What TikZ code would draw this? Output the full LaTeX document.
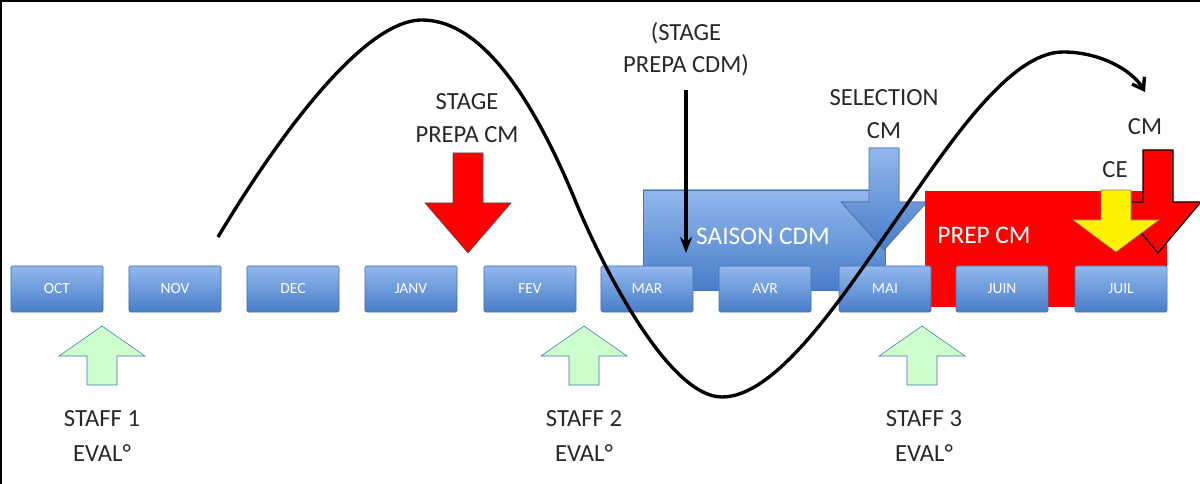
\documentclass[tikz,border=0pt]{standalone}
\usepackage{fontspec}
\setmainfont{Carlito}
\usepackage{tikz}
\usetikzlibrary{positioning}
\usetikzlibrary{arrows.meta}
\definecolor{boxtop}{RGB}{146,184,238}
\definecolor{boxbot}{RGB}{72,125,200}
\definecolor{boxline}{RGB}{70,115,175}
\definecolor{staffgreen}{RGB}{204,255,204}
\definecolor{labelgray}{RGB}{40,40,40}

% block arrow: x, tail y, head base y, tip y
\newcommand{\blockarrow}[5][]{%
  \filldraw[#1] (#2-15,#3) -- (#2+15,#3) -- (#2+15,#4) -- (#2+43,#4)
    -- (#2,#5) -- (#2-43,#4) -- (#2-15,#4) -- cycle;}

\tikzset{
  month/.style={rectangle, rounded corners=1pt, draw=boxline, top color=boxtop, bottom color=boxbot,
    minimum width=2.3cm, minimum height=1.15cm, text=white,
    font=\fontsize{11}{13}\selectfont},
  lbl/.style={text=labelgray, align=center, font=\fontsize{17.5}{23}\selectfont},
  wave/.style={line width=2.4pt, -{Straight Barb[length=2.6mm,width=3.6mm]}}
}

\begin{document}
\begin{tikzpicture}[x=0.025cm, y=-0.025cm]
	\useasboundingbox (0,0) rectangle (1200,484);
	\draw[line width=0.8pt] (1,484) -- (1,1) -- (1200,1);

	% seasons behind the months
	\filldraw[draw=boxline, top color=boxtop, bottom color=boxbot] (643,190) rectangle (885,290);
	\blockarrow[draw=boxline, top color=boxtop, bottom color=boxbot]{884}{148}{202}{250}
	\fill[red] (925,191) rectangle (1167,307);
	\node[text=white, font=\fontsize{18}{22}\selectfont] (saison) at (763,236) {SAISON CDM};
	\node[text=white, font=\fontsize{18}{22}\selectfont] (prep) at (984,235) {PREP CM};

	% months
	\begin{scope}[every node/.style={month}]
	    \node (oct) at (57,289) {OCT};
	    \node (nov) at (175,289) {NOV};
	    \node (dec) at (293,289) {DEC};
	    \node (janv) at (411,289) {JANV};
	    \node (fev) at (530,289) {FEV};
	    \node (mar) at (647,289) {MAR};
	    \node (avr) at (765,289) {AVR};
	    \node (mai) at (885,289) {MAI};
	    \node (juin) at (1002,289) {JUIN};
	    \node (juil) at (1121,289) {JUIL};
	\end{scope}

	% events
	\blockarrow[fill=red, draw=black!70]{468}{153}{203}{253}
	\blockarrow[fill=red, draw=black, line width=0.8pt]{1158}{150}{202}{253}
	\blockarrow[fill=yellow, draw=black!50]{1116}{190}{220}{252}
	\begin{scope}[every node/.style={lbl}]
	    \node (stagecm) at (467,118) {STAGE\\PREPA CM};
	    \node (stagecdm) at (686,49) {(STAGE\\PREPA CDM)};
	    \node (selection) at (884,114) {SELECTION\\CM};
	    \node (ce) at (1115,170) {CE};
	    \node (cm) at (1145,127) {CM};
	\end{scope}
	\coordinate (cdmtip) at (686,253);
	\draw[line width=2.2pt, -{Stealth[length=4mm,width=3mm]}] (686,90) -- (cdmtip);

	% staff evaluations
	\blockarrow[fill=staffgreen, draw=boxline]{102}{385}{356}{326}
	\blockarrow[fill=staffgreen, draw=boxline]{584}{385}{356}{326}
	\blockarrow[fill=staffgreen, draw=boxline]{922}{385}{356}{326}
	\begin{scope}[every node/.style={lbl, font=\fontsize{17.5}{25}\selectfont}]
	    \node (staff1) at (102,436) {STAFF 1\\EVAL°};
	    \node (staff2) at (584,436) {STAFF 2\\EVAL°};
	    \node (staff3) at (924,436) {STAFF 3\\EVAL°};
	\end{scope}

	% form curve
	\coordinate (w0) at (218,237);
	\coordinate (w1) at (422,20);
	\coordinate (w2) at (575,200);
	\coordinate (w3) at (722,397);
	\coordinate (w4) at (903,210);
	\coordinate (w5) at (1063,52);
	\coordinate (w6) at (1145,92);
	\draw[wave] (w0) .. controls (270,150) and (360,20) .. (w1)
	    .. controls (485,20) and (537,108) .. (w2)
	    .. controls (605,273) and (670,397) .. (w3)
	    .. controls (780,397) and (850,285) .. (w4)
	    .. controls (950,143) and (1010,52) .. (w5)
	    .. controls (1100,52) and (1132,70) .. (w6);
\end{tikzpicture}
\end{document}
